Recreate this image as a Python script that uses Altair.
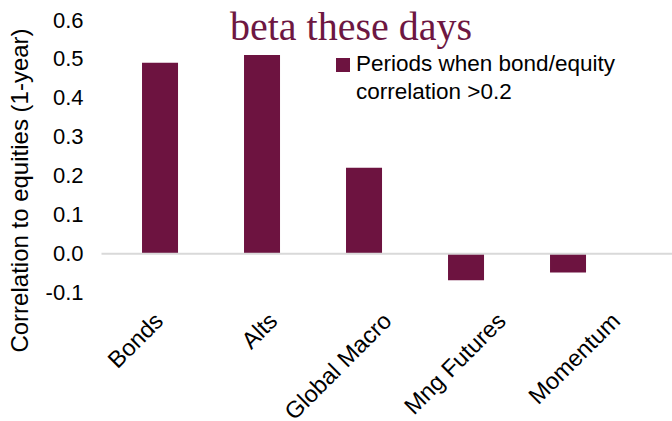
import altair as alt
import pandas as pd

categories = ["Bonds", "Alts", "Global Macro", "Mng Futures", "Momentum"]
values = [0.49, 0.51, 0.22, -0.07, -0.05]
series_name = "Periods when bond/equity correlation >0.2"
legend_lines = "Periods when bond/equity\ncorrelation >0.2"
title_text = "beta these days"
y_title = "Correlation to equities (1-year)"
y_ticks = [-0.1, 0.0, 0.1, 0.2, 0.3, 0.4, 0.5, 0.6]
y_min, y_max = -0.1, 0.6

BAR = "#6D1340"
TITLE_C = "#6D1742"
SANS = "Liberation Sans"
H = 272

df = pd.DataFrame({"category": categories, "value": values, "series": series_name})
leg_df = pd.DataFrame({"series": [series_name], "label": [legend_lines]})
title_df = pd.DataFrame({"t": [title_text]})

y_enc = alt.Y(
    "value:Q",
    scale=alt.Scale(domain=[y_min, y_max], nice=False, zero=False),
    axis=alt.Axis(
        values=y_ticks,
        labelExpr="datum.value < -0.001 ? '-' + format(-datum.value, '.1f') : format(abs(datum.value), '.1f')",
        labelFontSize=22, labelFont=SANS, labelColor="#000000", labelPadding=18,
        labelOverlap=False, labelBound=False, labelFlush=False,
        domain=False, ticks=False, grid=False,
        title=y_title, titleFont=SANS, titleFontSize=24, titleFontWeight="normal",
        titleColor="#000000", titleAngle=270, titleX=-74, titleY=170,
        titleAlign="center", titleBaseline="alphabetic",
    ),
)

# zero line drawn as the category axis' domain, lifted to y = 0
zero_offset = -H * (0 - y_min) / (y_max - y_min)

bars = alt.Chart(df).mark_bar(color=BAR).encode(
    x=alt.X(
        "category:N", sort=categories,
        scale=alt.Scale(paddingInner=0.647, paddingOuter=0.6225, align=0.323),
        axis=alt.Axis(
            title=None, labels=False, ticks=False, grid=False,
            domain=True, domainColor="#D9D9D9", domainWidth=2,
            offset=zero_offset, zindex=1,
        ),
    ),
    y=y_enc,
)

xlabels = alt.Chart(df).mark_text(
    angle=315, align="right", baseline="top", fontSize=23.5, font=SANS, color="#000000",
).encode(
    x=alt.X("category:N", sort=categories,
            scale=alt.Scale(type="point", padding=0.5, align=0.44), axis=None),
    y=alt.value(289),
    text="category:N",
)

leg_sym = alt.Chart(leg_df).mark_square(size=196, color=BAR, opacity=1).encode(
    x=alt.value(242), y=alt.value(45)
)
leg_txt = alt.Chart(leg_df).mark_text(
    align="left", baseline="alphabetic", fontSize=22.5, font=SANS,
    color="#000000", lineBreak="\n", lineHeight=28,
).encode(x=alt.value(255), y=alt.value(51), text="label:N")

title = alt.Chart(title_df).mark_text(
    align="center", baseline="alphabetic", fontSize=40, font="Liberation Serif",
    color=TITLE_C,
).encode(x=alt.value(250), y=alt.value(20), text="t:N")

chart = alt.layer(bars, xlabels, leg_sym, leg_txt, title).resolve_scale(
    x="independent"
).properties(
    width=571, height=H,
    background="white",
    autosize=alt.AutoSizeParams(type="none"),
    padding={"left": 101, "top": 20, "right": 0, "bottom": 129},
).configure_view(stroke=None).configure_axisY(labelOverlap=False)

chart.save("out.html", embed_options={"renderer": "svg", "actions": False})
